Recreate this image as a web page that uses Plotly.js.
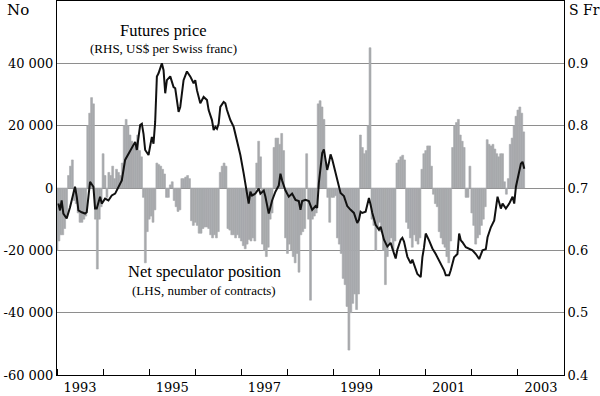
<!DOCTYPE html>
<html>
<head>
<meta charset="utf-8">
<script src="https://cdn.plot.ly/plotly-3.0.1.min.js"></script>
<style>html,body{margin:0;padding:0;background:#fff;}#chart{width:600px;height:396px;}</style>
</head>
<body>
<div id="chart"></div>
<script>
// Net speculator position, thousands of contracts, semi-monthly from Jan 1993
const barStartYear = 1993;
const barStep = 1 / 24;
const netPosition = [
 -20,-17,-15,-15,-13,-9,4,7,9,-4,-5,-8,-11,-11,-10,-9,20,24,29,27,
 -10,-26,-10,-6,11,4,-3,5,4,7,3,6,5,4,8,20,22,20,17,15,
 14,13,17,12,10,-3,-24,-14,-10,-9,-11,-7,8,7.5,7,6,4.5,-3,-3,1,
 2,-4,-6,-7.5,-7,3,3,3.5,4,3,-10.5,-12,-11,-12,-14.5,-14.5,-13,-12.5,-12.5,-13,
 -15,-16,-15,-16,-14,5,7,8,7,-13,-13.5,-15,-15,-16,-15,-16,-17,-18.5,-19.5,-18,
 -16.5,-17,-16,-17,8,15,10,-18,-20,-22,-19,-10,-8,13,16,16,14,17.5,12,-16,
 -21,-18,-20,-22,-24,-21,-27,-15,-14,-13,11,-10,-36,-10,-9,-8,27,28,26,22,
 8,-3,-11,-3,-3,-2.5,-16,-18,-21,-29,-31,-38,-52,-40,-37,-34,-39,-34,17,13,
 11,12,20,45,-10,-12,-20,-13,-11,-14,-20,-31,-22,-18,-16,-20,-17,8,9,10,
 10.5,9,-11,-13,-16,-19,-15,-17,-18,-16,6,11,12,13.5,13.5,7,-2,-5,-6,-14,
 -16,-18,-19,-22,-24,-17,13,20,21,22,17,15,13,-3,-3,7,-8,-12,-18,-16,
 -15,-12,-10,-6,15.5,14,13.5,14,12.5,11,10,11,11,2,-2,3,14,16,20,23,
 25,26,24,18
];

// Futures price, US$ per Swiss franc (decimal years)
const priceYears = [
 1993.030,1993.065,1993.101,1993.138,1993.210,1993.283,1993.355,1993.391,1993.428,1993.464,
 1993.536,1993.609,1993.645,1993.681,1993.717,1993.790,1993.826,1993.862,1993.935,1993.971,
 1994.043,1994.116,1994.188,1994.261,1994.333,1994.406,1994.478,1994.551,1994.623,1994.696,
 1994.732,1994.804,1994.841,1994.877,1994.913,1994.986,1995.058,1995.094,1995.130,1995.167,
 1995.203,1995.275,1995.312,1995.348,1995.384,1995.457,1995.529,1995.565,1995.638,1995.674,
 1995.746,1995.819,1995.891,1995.964,1996.000,1996.036,1996.109,1996.181,1996.254,1996.290,
 1996.362,1996.399,1996.435,1996.471,1996.507,1996.543,1996.616,1996.652,1996.688,1996.761,
 1996.833,1996.906,1996.978,1997.051,1997.087,1997.123,1997.159,1997.196,1997.232,1997.304,
 1997.377,1997.413,1997.486,1997.522,1997.594,1997.630,1997.667,1997.739,1997.812,1997.848,
 1997.884,1997.957,1998.029,1998.101,1998.174,1998.246,1998.283,1998.319,1998.391,1998.464,
 1998.536,1998.609,1998.645,1998.681,1998.717,1998.754,1998.790,1998.826,1998.862,1998.899,
 1998.935,1998.971,1999.007,1999.043,1999.080,1999.116,1999.152,1999.225,1999.297,1999.370,
 1999.442,1999.514,1999.551,1999.587,1999.623,1999.696,1999.732,1999.768,1999.804,1999.841,
 1999.913,1999.986,2000.022,2000.094,2000.167,2000.239,2000.312,2000.348,2000.384,2000.457,
 2000.493,2000.529,2000.601,2000.674,2000.710,2000.783,2000.819,2000.891,2000.928,2000.964,
 2001.000,2001.072,2001.145,2001.217,2001.254,2001.326,2001.399,2001.435,2001.507,2001.543,
 2001.616,2001.688,2001.725,2001.761,2001.797,2001.870,2001.942,2002.014,2002.087,2002.123,
 2002.159,2002.232,2002.304,2002.341,2002.413,2002.486,2002.522,2002.558,2002.630,2002.667,
 2002.739,2002.812,2002.884,2002.920,2002.957,2003.029,2003.065,2003.101,2003.138
];
const futuresPrice = [
 0.675,0.664,0.680,0.659,0.651,0.669,0.691,0.702,0.686,0.664,
 0.661,0.659,0.661,0.686,0.710,0.702,0.667,0.667,0.686,0.675,
 0.683,0.680,0.688,0.691,0.702,0.712,0.745,0.755,0.766,0.774,
 0.761,0.801,0.803,0.787,0.761,0.753,0.782,0.771,0.806,0.879,
 0.884,0.900,0.889,0.852,0.873,0.879,0.862,0.860,0.822,0.830,
 0.873,0.887,0.879,0.868,0.873,0.857,0.836,0.846,0.841,0.825,
 0.809,0.793,0.798,0.795,0.803,0.830,0.838,0.836,0.825,0.809,
 0.798,0.777,0.753,0.723,0.707,0.691,0.675,0.694,0.688,0.691,
 0.699,0.691,0.696,0.686,0.659,0.669,0.680,0.694,0.704,0.723,
 0.712,0.696,0.686,0.691,0.681,0.679,0.665,0.679,0.681,0.679,
 0.665,0.671,0.668,0.708,0.729,0.756,0.762,0.746,0.729,0.740,
 0.754,0.746,0.735,0.729,0.716,0.705,0.692,0.687,0.671,0.665,
 0.660,0.644,0.649,0.662,0.660,0.662,0.671,0.684,0.673,0.660,
 0.641,0.633,0.638,0.617,0.606,0.612,0.595,0.587,0.601,0.617,
 0.620,0.614,0.590,0.579,0.585,0.568,0.562,0.557,0.589,0.605,
 0.627,0.616,0.603,0.594,0.589,0.578,0.568,0.560,0.560,0.568,
 0.589,0.594,0.627,0.616,0.613,0.605,0.602,0.600,0.594,0.589,
 0.586,0.600,0.602,0.621,0.637,0.648,0.669,0.686,0.667,0.675,
 0.667,0.675,0.686,0.675,0.702,0.726,0.739,0.742,0.731
];

const yearLabels = ['1993','1995','1997','1999','2001','2003'];
const yearLabelPos = [1993.5,1995.5,1997.5,1999.5,2001.5,2003.5];
const leftTicks = [-60000,-40000,-20000,0,20000,40000];
const leftTickText = ['-60 000','-40 000','-20 000','0','20 000','40 000'];
const rightTicks = [0.4,0.5,0.6,0.7,0.8,0.9];
const rightTickText = ['0.4','0.5','0.6','0.7','0.8','0.9'];

const barX = netPosition.map((v, k) => barStartYear + k * barStep);
const barY = netPosition.map(v => v * 1000);

const serif = 'DejaVu Serif, serif';
const titleSerif = 'Liberation Serif, serif';
const barColor = '#a7a9ac';

const traces = [
  {type:'bar', x:barX, y:barY, width:barStep, marker:{color:barColor, line:{width:0.6, color:barColor}},
   hoverinfo:'skip'},
  {type:'scatter', mode:'lines', x:priceYears, y:futuresPrice, yaxis:'y2',
   line:{color:'#111', width:2}, hoverinfo:'skip'}
];

const layout = {
  width:600, height:396,
  margin:{l:57, r:36, t:1, b:21, pad:0},
  paper_bgcolor:'#fff', plot_bgcolor:'#fff',
  showlegend:false, bargap:0,
  font:{family:serif, size:13, color:'#000'},
  xaxis:{range:[1993,2004], tickmode:'array', tickvals:yearLabelPos, ticktext:yearLabels,
    ticks:'', showgrid:false, zeroline:false, showline:true, linecolor:'#000', linewidth:1,
    mirror:true, tickfont:{family:serif, size:13},
    minor:{tickmode:'linear', tick0:1993, dtick:1, ticks:'inside', ticklen:6,
      tickcolor:'#000', tickwidth:1, showgrid:false}},
  yaxis:{range:[-60000,60000], tickmode:'array', tickvals:leftTicks, ticktext:leftTickText,
    ticks:'', showgrid:true, gridcolor:'#8e8e8e', gridwidth:1, zeroline:true,
    zerolinecolor:'#8e8e8e', zerolinewidth:1, showline:true, linecolor:'#000', linewidth:1,
    tickfont:{family:serif, size:13}},
  yaxis2:{overlaying:'y', side:'right', range:[0.4,1.0], tickmode:'array',
    tickvals:rightTicks, ticktext:rightTickText, ticks:'', showgrid:false, zeroline:false,
    showline:true, linecolor:'#000', linewidth:1, tickfont:{family:serif, size:13}},
  annotations:[
    {text:'No', xref:'paper', yref:'paper', x:-0.1026, y:0.976, xanchor:'left', yanchor:'middle',
     showarrow:false, font:{family:serif, size:15}},
    {text:'S Fr', xref:'paper', yref:'paper', x:1.005, y:0.976, xanchor:'left', yanchor:'middle',
     showarrow:false, font:{family:serif, size:14}},
    {text:'Futures price', xref:'x', yref:'paper', x:1995.3, y:0.92, xanchor:'center', yanchor:'middle',
     showarrow:false, font:{family:titleSerif, size:16.5}},
    {text:'(RHS, US$ per Swiss franc)', xref:'x', yref:'paper', x:1995.32, y:0.872, xanchor:'center', yanchor:'middle',
     showarrow:false, font:{family:titleSerif, size:13}},
    {text:'Net speculator position', xref:'x', yref:'paper', x:1996.2, y:0.277, xanchor:'center', yanchor:'middle',
     showarrow:false, font:{family:titleSerif, size:16.5}},
    {text:'(LHS, number of contracts)', xref:'x', yref:'paper', x:1996.18, y:0.226, xanchor:'center', yanchor:'middle',
     showarrow:false, font:{family:titleSerif, size:13}}
  ]
};

Plotly.newPlot('chart', traces, layout, {staticPlot:true, displayModeBar:false});
</script>
</body>
</html>
